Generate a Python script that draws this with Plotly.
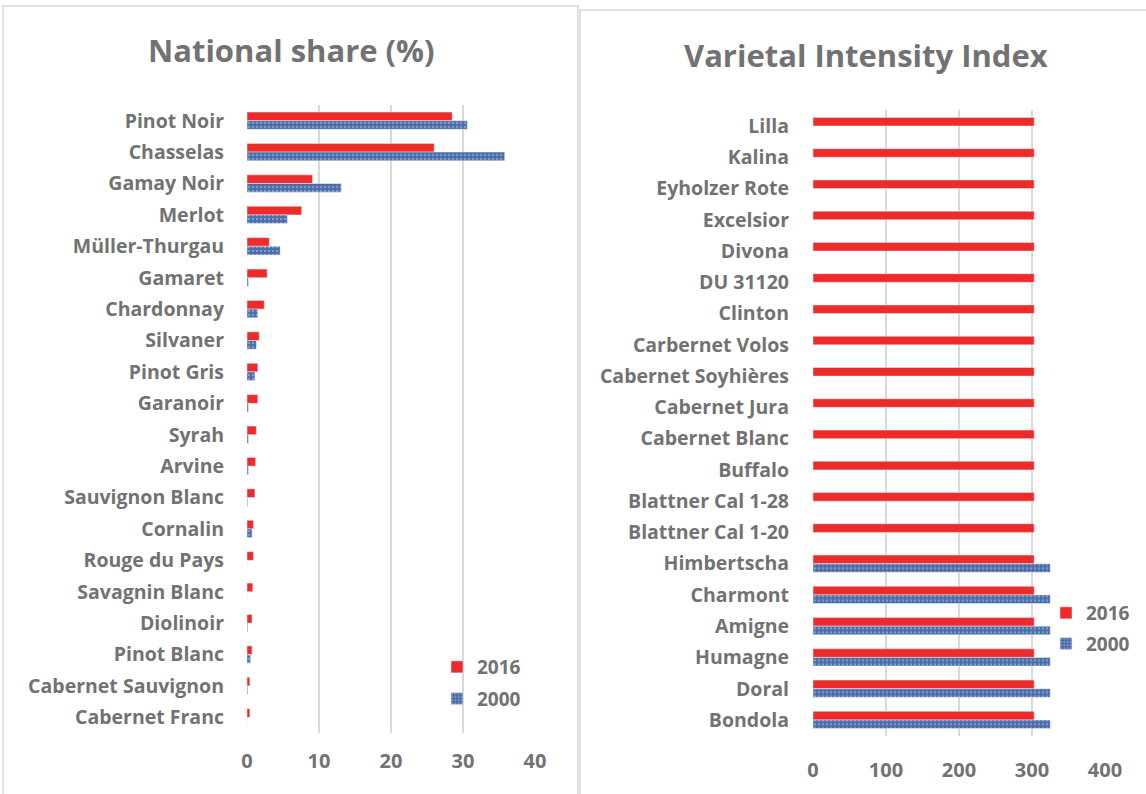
import plotly.graph_objects as go

# National share of grape varieties (%)
share_varieties = ["Pinot Noir", "Chasselas", "Gamay Noir", "Merlot", "Müller-Thurgau",
                   "Gamaret", "Chardonnay", "Silvaner", "Pinot Gris", "Garanoir", "Syrah",
                   "Arvine", "Sauvignon Blanc", "Cornalin", "Rouge du Pays", "Savagnin Blanc",
                   "Diolinoir", "Pinot Blanc", "Cabernet Sauvignon", "Cabernet Franc"]
share_2016 = [28.5, 26.0, 9.1, 7.6, 3.1, 2.8, 2.4, 1.7, 1.5, 1.5, 1.3, 1.2, 1.1, 0.9,
              0.9, 0.8, 0.7, 0.7, 0.4, 0.4]
share_2000 = [30.6, 35.8, 13.1, 5.6, 4.6, 0.2, 1.5, 1.3, 1.1, 0.2, 0.2, 0.2, 0.1, 0.7,
              0.0, 0.0, 0.1, 0.5, 0.1, 0.0]

# Varietal intensity index
vii_varieties = ["Lilla", "Kalina", "Eyholzer Rote", "Excelsior", "Divona", "DU 31120",
                 "Clinton", "Carbernet Volos", "Cabernet Soyhières", "Cabernet Jura",
                 "Cabernet Blanc", "Buffalo", "Blattner Cal 1-28", "Blattner Cal 1-20",
                 "Himbertscha", "Charmont", "Amigne", "Humagne", "Doral", "Bondola"]
vii_2016 = [303] * 20
vii_2000 = [None] * 14 + [325] * 6

RED = "#EE2B2B"
BLUE = "#4A6CA6"
GREY = "#727272"
GRID = "#D9D9D9"
FONT = "Open Sans"

blue_pattern = dict(shape=".", bgcolor=BLUE, fgcolor="#B8C9E6", size=4, solidity=0.3)

fig = go.Figure()

fig.add_trace(go.Bar(y=share_varieties, x=share_2016, orientation="h", name="2016",
                     marker=dict(color=RED), xaxis="x", yaxis="y",
                     legend="legend", legendgroup="a16"))
fig.add_trace(go.Bar(y=share_varieties, x=share_2000, orientation="h", name="2000",
                     marker=dict(color=BLUE, pattern=blue_pattern),
                     xaxis="x", yaxis="y", legend="legend", legendgroup="a00"))
fig.add_trace(go.Bar(y=vii_varieties, x=vii_2016, orientation="h", name="2016",
                     marker=dict(color=RED), xaxis="x2", yaxis="y2",
                     legend="legend2", legendgroup="b16"))
fig.add_trace(go.Bar(y=vii_varieties, x=vii_2000, orientation="h", name="2000",
                     marker=dict(color=BLUE, pattern=blue_pattern),
                     xaxis="x2", yaxis="y2", legend="legend2", legendgroup="b00"))

W, H = 1146, 794

tick_font = dict(family=FONT, size=20, color=GREY, weight="bold")
cat_font = dict(family=FONT, size=19.5, color=GREY, weight="bold")
legend_font = dict(family=FONT, size=19, color=GREY, weight="bold")

fig.update_layout(
    width=W, height=H,
    margin=dict(l=0, r=0, t=0, b=0),
    paper_bgcolor="white", plot_bgcolor="white",
    barmode="group", bargap=0.45, bargroupgap=0,
    font=dict(family=FONT, color=GREY),
    xaxis=dict(domain=[247 / W, 535 / W], range=[0, 40], dtick=10, anchor="y",
               showgrid=True, gridcolor=GRID, gridwidth=2, zeroline=False,
               tickfont=tick_font, ticklabelstandoff=14, showline=False, automargin=False),
    yaxis=dict(domain=[1 - 733 / H, 1 - 105 / H], anchor="x", autorange="reversed",
               tickfont=cat_font, ticklabelstandoff=22, showgrid=False, showline=False,
               automargin=False),
    xaxis2=dict(domain=[813 / W, 1105 / W], range=[0, 400], dtick=100, anchor="y2",
                showgrid=True, gridcolor=GRID, gridwidth=2, zeroline=False,
                tickfont=tick_font, ticklabelstandoff=20, showline=False, automargin=False),
    yaxis2=dict(domain=[1 - 735.6 / H, 1 - 110.4 / H], anchor="x2", autorange="reversed",
                tickfont=cat_font, ticklabelstandoff=23, showgrid=False, showline=False,
                automargin=False),
    legend=dict(x=437 / W, y=1 - 648 / H, xanchor="left", yanchor="top",
                font=legend_font, bgcolor="rgba(0,0,0,0)", itemwidth=30,
                tracegroupgap=4),
    legend2=dict(x=1 - 11 / W, y=1 - 594 / H, xanchor="right", yanchor="top",
                 font=legend_font, bgcolor="rgba(0,0,0,0)", itemwidth=30,
                 tracegroupgap=3),
    annotations=[
        dict(text="<b>National share (%)</b>", x=291 / W, y=1 - 50 / H, xref="paper",
             yref="paper", showarrow=False, xanchor="center", yanchor="middle",
             font=dict(family=FONT, size=31, color=GREY)),
        dict(text="<b>Varietal Intensity Index</b>", x=866 / W, y=1 - 55 / H, xref="paper",
             yref="paper", showarrow=False, xanchor="center", yanchor="middle",
             font=dict(family=FONT, size=31, color=GREY)),
    ],
    shapes=[
        dict(type="rect", xref="paper", yref="paper", x0=3 / W, x1=578 / W,
             y0=-0.01, y1=1 - 6 / H, line=dict(color=GRID, width=1.5)),
        dict(type="rect", xref="paper", yref="paper", x0=580 / W, x1=1.01,
             y0=-0.01, y1=1 - 10 / H, line=dict(color=GRID, width=1.5)),
    ],
)

fig.write_html("out.html")
